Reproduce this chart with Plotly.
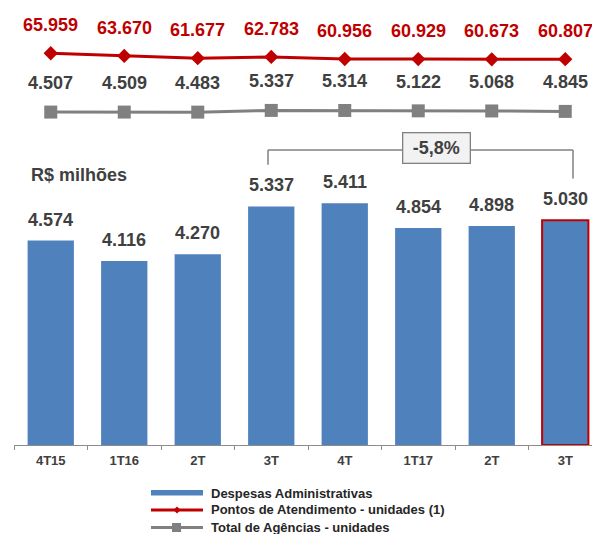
import plotly.graph_objects as go

# ---- data -------------------------------------------------------------
quarters = ["4T15", "1T16", "2T", "3T", "4T", "1T17", "2T", "3T"]
despesas = [4574, 4116, 4270, 5337, 5411, 4854, 4898, 5030]          # R$ milhões
pontos = [65959, 63670, 61677, 62783, 60956, 60929, 60673, 60807]     # unidades
agencias = [4507, 4509, 4483, 5337, 5314, 5122, 5068, 4845]           # unidades
variacao = "-5,8%"
unit_label = "R$ milhões"
legend_names = ["Despesas Administrativas",
                "Pontos de Atendimento - unidades (1)",
                "Total de Agências - unidades"]

# ---- styling ----------------------------------------------------------
FONT = "Liberation Sans, Arial, sans-serif"
BLUE = "#4F81BD"
RED = "#C00000"
GREY = "#808080"
TXT = "#404040"

W, H = 592, 534
PLOT_L, PLOT_H = 14, 445           # plot area: left edge, height (top margin 0)
CAT_PX = 73.5                      # width of one category slot
PLOT_W = W - PLOT_L

x = list(range(len(quarters)))


def px_to_x(px):
    return (px - PLOT_L) / CAT_PX - 0.5


def px_to_py(py):
    return (PLOT_H - py) / PLOT_H


def axis_range(v_ref, py_ref, px_per_unit):
    top = v_ref + py_ref / px_per_unit
    bottom = v_ref - (PLOT_H - py_ref) / px_per_unit
    return [bottom, top]


def fmt(v):
    return f"{v:,}".replace(",", ".")


bar_scale = 0.0447
y_bar = axis_range(0, PLOT_H, bar_scale)
y_red = axis_range(62182, 57.6, 0.00115)
y_grey = axis_range(4898, 111.3, 0.002)

fig = go.Figure()

fig.add_trace(go.Bar(
    x=x, y=despesas, width=0.63,
    marker=dict(color=BLUE,
                line=dict(color=[BLUE] * 7 + [RED], width=[0] * 7 + [2])),
    yaxis="y", showlegend=False,
))
fig.add_trace(go.Scatter(
    x=x, y=pontos, mode="lines+markers",
    line=dict(color=RED, width=3),
    marker=dict(symbol="diamond", size=11, color=RED),
    yaxis="y2", showlegend=False, cliponaxis=False,
))
fig.add_trace(go.Scatter(
    x=x, y=agencias, mode="lines+markers",
    line=dict(color=GREY, width=3),
    marker=dict(symbol="square", size=13, color=GREY),
    yaxis="y3", showlegend=False, cliponaxis=False,
))

annotations = []
for xi, v in zip(x, despesas):
    annotations.append(dict(x=xi, y=v, xref="x", yref="y", text=fmt(v),
                            showarrow=False, yshift=21, yanchor="middle",
                            font=dict(family=FONT, size=18, color=TXT, weight="bold")))
for xi, v in zip(x, pontos):
    annotations.append(dict(x=xi, y=v, xref="x", yref="y2", text=fmt(v),
                            showarrow=False, yshift=28, yanchor="middle",
                            font=dict(family=FONT, size=18, color=RED, weight="bold")))
for xi, v in zip(x, agencias):
    annotations.append(dict(x=xi, y=v, xref="x", yref="y3", text=fmt(v),
                            showarrow=False, yshift=29, yanchor="middle",
                            font=dict(family=FONT, size=18, color=TXT, weight="bold")))

# unit caption
annotations.append(dict(x=(29 - PLOT_L) / PLOT_W, y=px_to_py(175), xref="paper", yref="paper",
                        text=unit_label, showarrow=False, xanchor="left", yanchor="middle",
                        font=dict(family=FONT, size=18, color=TXT, weight="bold")))

# variation bracket between the two 3T bars
bracket_top = (PLOT_H - 150) / bar_scale
gap = 930
left_x, right_x = px_to_x(268), px_to_x(573)
shapes = [
    dict(type="line", xref="x", yref="y", x0=left_x, x1=left_x,
         y0=despesas[3] + gap, y1=bracket_top, line=dict(color=GREY, width=1.5)),
    dict(type="line", xref="x", yref="y", x0=left_x, x1=right_x,
         y0=bracket_top, y1=bracket_top, line=dict(color=GREY, width=1.5)),
    dict(type="line", xref="x", yref="y", x0=right_x, x1=right_x,
         y0=bracket_top, y1=despesas[7] + gap, line=dict(color=GREY, width=1.5)),
]
annotations.append(dict(x=px_to_x(436.5), y=(PLOT_H - 148) / bar_scale, xref="x", yref="y",
                        text=variacao, showarrow=False, xanchor="center", yanchor="middle",
                        width=66, height=29, borderpad=0, bordercolor=GREY, borderwidth=1.3,
                        bgcolor="#F2F2F2",
                        font=dict(family=FONT, size=18, color=TXT, weight="bold")))

# legend drawn by hand
def lx(px):
    return (px - PLOT_L) / PLOT_W


leg_rows = [493, 510, 527]
shapes += [
    dict(type="rect", xref="paper", yref="paper", x0=lx(151), x1=lx(203),
         y0=px_to_py(490), y1=px_to_py(495.5), fillcolor=BLUE, line=dict(width=0)),
    dict(type="line", xref="paper", yref="paper", x0=lx(151), x1=lx(203),
         y0=px_to_py(510), y1=px_to_py(510), line=dict(color=RED, width=3)),
    dict(type="path", xref="paper", yref="paper",
         path=(f"M{lx(173.5)},{px_to_py(510)} L{lx(177)},{px_to_py(506.5)} "
               f"L{lx(180.5)},{px_to_py(510)} L{lx(177)},{px_to_py(513.5)} Z"),
         fillcolor=RED, line=dict(width=0)),
    dict(type="line", xref="paper", yref="paper", x0=lx(151), x1=lx(203),
         y0=px_to_py(527.5), y1=px_to_py(527.5), line=dict(color=GREY, width=3)),
    dict(type="rect", xref="paper", yref="paper", x0=lx(172), x1=lx(181),
         y0=px_to_py(523), y1=px_to_py(532), fillcolor=GREY, line=dict(width=0)),
]
for name, row in zip(legend_names, leg_rows):
    annotations.append(dict(x=lx(209), y=px_to_py(row), xref="paper", yref="paper",
                            text=name, showarrow=False, xanchor="left", yanchor="middle",
                            font=dict(family=FONT, size=13, color="#262626", weight="bold")))

hidden = dict(visible=False, showgrid=False, zeroline=False, fixedrange=True)

fig.update_layout(
    width=W, height=H,
    margin=dict(l=PLOT_L, r=0, t=0, b=H - PLOT_H, pad=0),
    paper_bgcolor="white", plot_bgcolor="white",
    xaxis=dict(range=[-0.5, -0.5 + PLOT_W / CAT_PX], tickvals=x, ticktext=quarters,
               ticks="", showgrid=False, zeroline=False, ticklabelstandoff=3,
               showline=True, linecolor="#8C8C8C", linewidth=1,
               tickfont=dict(family=FONT, size=13, color=TXT, weight="bold"),
               minor=dict(tickvals=[i - 0.5 for i in range(len(quarters) + 1)],
                          ticks="outside", ticklen=4, tickcolor="#8C8C8C", tickwidth=1,
                          showgrid=False)),
    yaxis=dict(range=y_bar, domain=[0, 1], **hidden),
    yaxis2=dict(range=y_red, overlaying="y", **hidden),
    yaxis3=dict(range=y_grey, overlaying="y", **hidden),
    shapes=shapes,
    annotations=annotations,
    bargap=0.37,
)

fig.write_html("out.html")
